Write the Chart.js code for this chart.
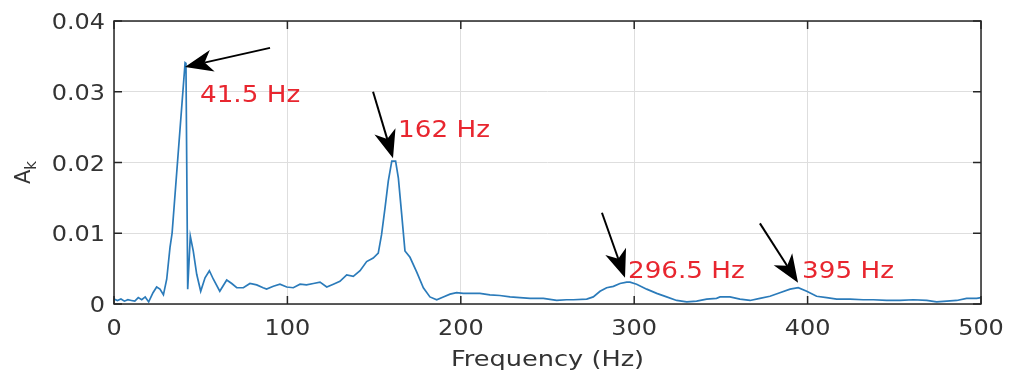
<!DOCTYPE html>
<html>
<head>
<meta charset="utf-8">
<script src="https://cdn.jsdelivr.net/npm/chart.js@4/dist/chart.umd.min.js"></script>
<style>
  html, body { margin: 0; padding: 0; background: #fff; }
  #wrap { width: 1009px; height: 375px; }
</style>
</head>
<body>
<div id="wrap"><canvas id="spec" width="1009" height="375"></canvas></div>
<script>
// spectrum (Hz, amplitude)
const freq = [0, 2, 4, 6, 8, 10, 12, 14, 16, 18, 20, 22.5, 24.6, 26.5, 28.5, 30.4, 32.3, 33.5,
  41, 41.5, 42.5, 44, 45.7, 47.7, 50, 52.5, 55, 57.3, 61, 65, 67.9, 70.8, 74.6, 78.4, 82.3, 86,
  88, 91.9, 95.7, 99.6, 103.4, 107.3, 111, 115, 118.8, 122.7, 126.5, 130.3, 134.2, 138, 141.9,
  145.7, 149.5, 152.4, 154.3, 156.3, 158.2, 160.2, 162.4, 164, 165.9, 167.8, 170.7, 174.6, 178.4,
  182.2, 186.1, 189.9, 193.8, 197.6, 201.4, 205.3, 211, 216.8, 222.5, 228.4, 234.1, 240, 247.6,
  255.3, 261, 265, 272.6, 276.4, 280.3, 284.1, 288, 291.8, 295.7, 297.6, 301.4, 307.2, 313, 318.7,
  324.5, 330.3, 336, 341.8, 347.5, 349.5, 355.2, 361, 366.8, 372.5, 378.3, 384, 389.9, 394.6,
  399.5, 405.2, 411, 416.8, 424.5, 432, 437.9, 445.6, 453.3, 461, 468.7, 474.4, 480.2, 486,
  491.7, 497.5, 500];
const amp = [0.0007, 0.0005, 0.0007, 0.0004, 0.0006, 0.0005, 0.0004, 0.0009, 0.0006, 0.0010, 0.0003,
  0.0016, 0.0024, 0.0021, 0.0013, 0.0035, 0.0080, 0.0100,
  0.0341, 0.0340, 0.0021, 0.0096, 0.0075, 0.0042, 0.0018, 0.0037, 0.0047, 0.0035, 0.0018, 0.0034,
  0.0029, 0.0023, 0.0023, 0.0029, 0.0027, 0.0023,
  0.0021, 0.0025, 0.0028, 0.0024, 0.0023, 0.0028, 0.0027, 0.0029, 0.0031, 0.0024, 0.0028, 0.0032,
  0.0041, 0.0039, 0.0047,
  0.0060, 0.0065, 0.0072, 0.0098, 0.0136, 0.0174, 0.0202, 0.0202, 0.0178, 0.0127, 0.0075, 0.0066,
  0.0045, 0.0023,
  0.0010, 0.0006, 0.0010, 0.0014, 0.0016, 0.0015, 0.0015, 0.0015, 0.0013, 0.0012, 0.0010, 0.0009,
  0.0008, 0.0008,
  0.0005, 0.0006, 0.0006, 0.0007, 0.0010, 0.0018, 0.0023, 0.0025, 0.0029, 0.0031, 0.0031, 0.0028,
  0.0021, 0.0015, 0.0010,
  0.0005, 0.0003, 0.0004, 0.0007, 0.0008, 0.0010, 0.0010, 0.0007, 0.0005, 0.0008, 0.0011, 0.0016,
  0.0021, 0.0023,
  0.0018, 0.0011, 0.0009, 0.0007, 0.0007, 0.0006, 0.0006, 0.0005, 0.0005, 0.0006, 0.0005, 0.0003,
  0.0004, 0.0005,
  0.0008, 0.0008, 0.0009];

const xTicks = [0, 100, 200, 300, 400, 500];
const yTicks = [0, 0.01, 0.02, 0.03, 0.04];
const xTickLabels = ['0', '100', '200', '300', '400', '500'];
const yTickLabels = ['0', '0.01', '0.02', '0.03', '0.04'];

// peak annotations: label, arrow tip, arrow tail, text anchor (data units)
const peakLabels = ['41.5 Hz', '162 Hz', '296.5 Hz', '395 Hz'];
const tipF = [40.9, 160.9, 294.7, 394.5];
const tipA = [0.0335, 0.0206, 0.0037, 0.0030];
const tailF = [90, 149.4, 281.4, 372.5];
const tailA = [0.0362, 0.0300, 0.0129, 0.0114];
const textF = [49.6, 163.8, 296.4, 396.8];
const textA = [0.0285, 0.0236, 0.0037, 0.0037];

const axisColor = '#262626';
const fontFam = '"DejaVu Sans", sans-serif';
const stretch = 1.14; // the picture's text is a bit wider than it is tall

// text drawn a little wider than the font, like the reference
function wideText(ctx, txt, x, y, size, align, color, sx) {
    const k = sx || stretch;
    ctx.save();
    ctx.font = size + 'px ' + fontFam;
    ctx.fillStyle = color;
    ctx.textBaseline = 'alphabetic';
    ctx.textAlign = 'left';
    const w = ctx.measureText(txt).width * k;
    let x0 = x;
    if (align === 'center') x0 = x - w / 2;
    if (align === 'right') x0 = x - w;
    ctx.translate(x0, y);
    ctx.scale(k, 1);
    ctx.fillText(txt, 0, 0);
    ctx.restore();
}

function drawArrow(ctx, x0, y0, x1, y1) {
    const ang = Math.atan2(y1 - y0, x1 - x0);
    const c = Math.cos(ang), s = Math.sin(ang);
    const headLen = 28, headW = 11;
    const bx = x1 - headLen * c, by = y1 - headLen * s;
    ctx.strokeStyle = '#000';
    ctx.lineWidth = 2;
    ctx.beginPath();
    ctx.moveTo(x0, y0);
    ctx.lineTo(bx + 8 * c, by + 8 * s);
    ctx.stroke();
    ctx.fillStyle = '#000';
    ctx.beginPath();
    ctx.moveTo(x1, y1);
    ctx.lineTo(bx + headW * s, by - headW * c);
    ctx.lineTo(x1 - 0.72 * headLen * c, y1 - 0.72 * headLen * s);
    ctx.lineTo(bx - headW * s, by + headW * c);
    ctx.closePath();
    ctx.fill();
}

const framePlugin = {
    id: 'frame',
    afterDraw(chart) {
        const ctx = chart.ctx;
        const a = chart.chartArea;
        const xs = chart.scales.x, ys = chart.scales.y;
        ctx.save();
        // box
        ctx.strokeStyle = axisColor;
        ctx.lineWidth = 1.5;
        ctx.strokeRect(a.left, a.top, a.right - a.left, a.bottom - a.top);
        // inward ticks
        ctx.beginPath();
        xTicks.forEach(v => {
            const px = xs.getPixelForValue(v);
            ctx.moveTo(px, a.bottom); ctx.lineTo(px, a.bottom - 8);
            ctx.moveTo(px, a.top); ctx.lineTo(px, a.top + 8);
        });
        yTicks.forEach(v => {
            const py = ys.getPixelForValue(v);
            ctx.moveTo(a.left, py); ctx.lineTo(a.left + 8, py);
            ctx.moveTo(a.right, py); ctx.lineTo(a.right - 8, py);
        });
        ctx.stroke();

        // tick labels
        xTicks.forEach((v, i) => {
            wideText(ctx, xTickLabels[i], xs.getPixelForValue(v), a.bottom + 31, 21, 'center', '#333');
        });
        yTicks.forEach((v, i) => {
            wideText(ctx, yTickLabels[i], a.left - 9, ys.getPixelForValue(v) + 8, 21, 'right', '#333');
        });

        // annotations
        peakLabels.forEach((lab, i) => {
            drawArrow(ctx, xs.getPixelForValue(tailF[i]), ys.getPixelForValue(tailA[i]),
                xs.getPixelForValue(tipF[i]), ys.getPixelForValue(tipA[i]));
            wideText(ctx, lab, xs.getPixelForValue(textF[i]), ys.getPixelForValue(textA[i]), 23, 'left', '#e8262f');
        });

        // axis titles
        wideText(ctx, 'Frequency (Hz)', (a.left + a.right) / 2, 366, 21, 'center', '#333', 1.22);

        ctx.translate(30, 170);
        ctx.rotate(-Math.PI / 2);
        ctx.fillStyle = '#333';
        ctx.textAlign = 'left';
        ctx.font = '21px ' + fontFam;
        ctx.fillText('A', -14, 0);
        const wA = ctx.measureText('A').width;
        ctx.font = '15px ' + fontFam;
        ctx.fillText('k', -14 + wA, 6);
        ctx.restore();
    }
};

const ctx = document.getElementById('spec').getContext('2d');
new Chart(ctx, {
    type: 'line',
    data: {
        datasets: [{
            data: freq.map((f, i) => ({ x: f, y: amp[i] })),
            borderColor: '#2b7bba',
            borderWidth: 1.7,
            pointRadius: 0,
            tension: 0,
            fill: false
        }]
    },
    options: {
        responsive: false,
        animation: false,
        events: [],
        layout: { padding: { left: 0, right: 28, top: 21, bottom: 0 } },
        plugins: { legend: { display: false }, tooltip: { enabled: false } },
        scales: {
            x: {
                type: 'linear',
                min: 0, max: 500,
                afterFit: s => { s.height = 71; },
                afterBuildTicks: s => { s.ticks = xTicks.map(v => ({ value: v })); },
                ticks: { display: false },
                grid: { color: '#dedede', lineWidth: 1, drawTicks: false },
                border: { display: false }
            },
            y: {
                min: 0, max: 0.04,
                afterFit: s => { s.width = 114; },
                afterBuildTicks: s => { s.ticks = yTicks.map(v => ({ value: v })); },
                ticks: { display: false },
                grid: { color: '#dedede', lineWidth: 1, drawTicks: false },
                border: { display: false }
            }
        }
    },
    plugins: [framePlugin]
});
</script>
</body>
</html>
